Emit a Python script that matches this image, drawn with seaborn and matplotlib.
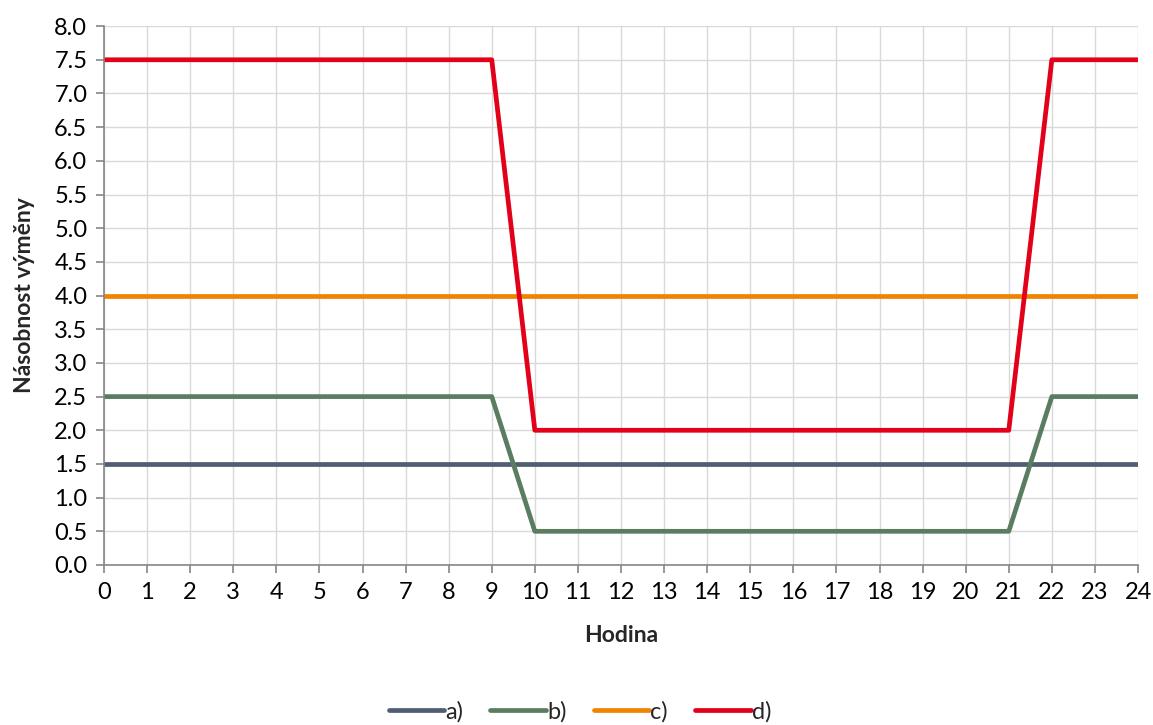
import matplotlib
matplotlib.use("Agg")
import matplotlib.pyplot as plt
import seaborn as sns
import pandas as pd

# Hourly air exchange rates for four ventilation scenarios
hours = [0, 9, 10, 21, 22, 24]
series_names = ["a)", "b)", "c)", "d)"]
values_a = [1.5, 1.5, 1.5, 1.5, 1.5, 1.5]
values_b = [2.5, 2.5, 0.5, 0.5, 2.5, 2.5]
values_c = [4.0, 4.0, 4.0, 4.0, 4.0, 4.0]
values_d = [7.5, 7.5, 2.0, 2.0, 7.5, 7.5]
colors = ["#505d72", "#5a7d62", "#f08300", "#e2001a"]

x_ticks = list(range(0, 25))
y_ticks = [i * 0.5 for i in range(17)]

frames = []
for name, vals in zip(series_names, [values_a, values_b, values_c, values_d]):
    frames.append(pd.DataFrame({"Hodina": hours, "value": vals, "series": name}))
df = pd.concat(frames, ignore_index=True)

sns.set_theme(style="white")
plt.rcParams["font.family"] = ["Lato", "DejaVu Sans"]

fig = plt.figure(figsize=(11.53, 7.25), dpi=100)
ax = fig.add_axes([0.0902, 0.2207, 0.8968, 0.7433])

sns.lineplot(data=df, x="Hodina", y="value", hue="series", palette=colors,
             hue_order=series_names, linewidth=3.4, ax=ax, legend=True,
             solid_capstyle="round", solid_joinstyle="round")

ax.set_xlim(0, 24)
ax.set_ylim(0, 8)
ax.set_xticks(x_ticks)
ax.set_xticklabels([str(t) for t in x_ticks])
ax.set_yticks(y_ticks)
ax.set_yticklabels([f"{t:.1f}" for t in y_ticks])
ax.grid(True, color="#d9d9d9", linewidth=1.0)
ax.set_axisbelow(True)

for side in ["top", "right"]:
    ax.spines[side].set_visible(False)
for side in ["left", "bottom"]:
    ax.spines[side].set_color("#868686")
    ax.spines[side].set_linewidth(1.2)

ax.tick_params(axis="both", which="major", direction="out", length=6,
               width=1.2, color="#868686", labelsize=17, labelcolor="#000000",
               bottom=True, left=True, pad=6)

ax.set_xlabel("Hodina", fontsize=16.5, fontweight="bold", labelpad=16)
ax.set_ylabel("Násobnost výměny", fontsize=16.5, fontweight="bold", labelpad=14)

# Legend centred on the figure, below the x-axis title
handles, labels = ax.get_legend_handles_labels()
ax.get_legend().remove()
for h in handles:
    h.set_solid_capstyle("round")
fig.legend(handles, labels, loc="center", bbox_to_anchor=(0.503, 0.018),
           ncol=4, frameon=False, fontsize=17, handlelength=2.35,
           handletextpad=0.05, columnspacing=1.15)

fig.savefig("out.png", dpi=100)
